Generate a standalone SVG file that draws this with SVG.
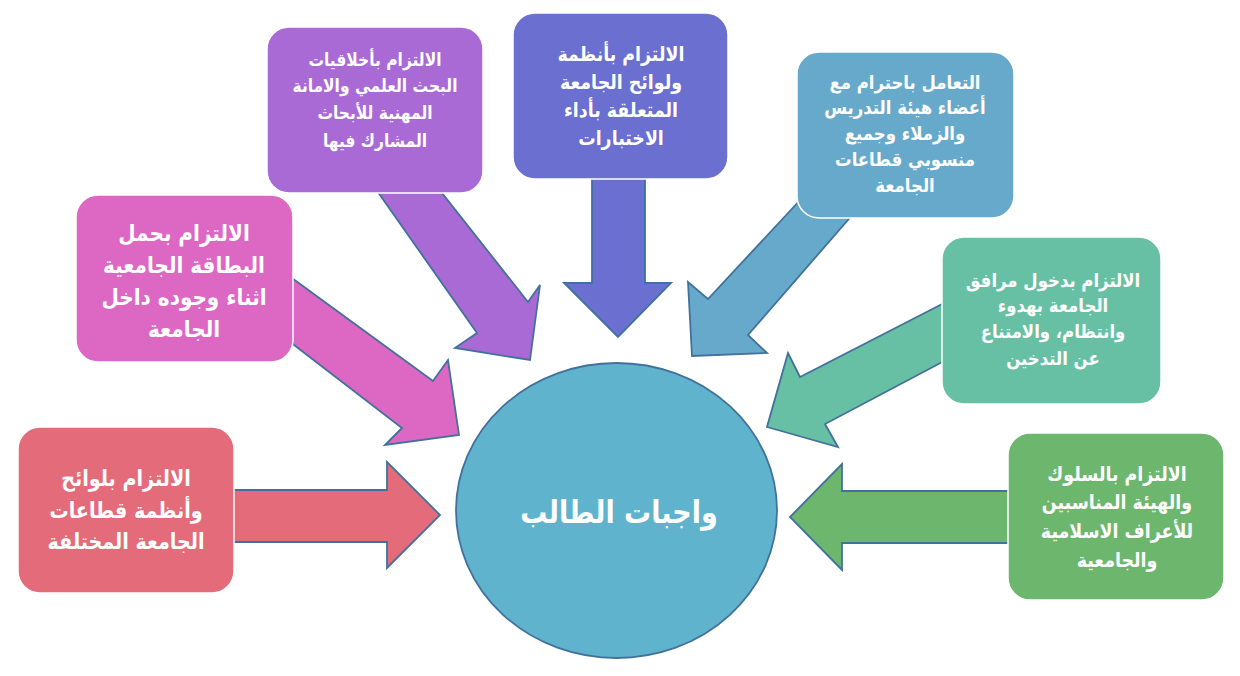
<svg xmlns="http://www.w3.org/2000/svg" width="1240" height="676" viewBox="0 0 1240 676">
<style>
.arrow{stroke:#41719C;stroke-width:1.8;stroke-linejoin:miter}
.box{stroke:#FFFFFF;stroke-width:1.5}
.t{font-family:"DejaVu Sans","Noto Sans",sans-serif;font-weight:bold;fill:#FFFFFF;text-anchor:middle;direction:rtl}
</style>
<rect width="1240" height="676" fill="#FFFFFF"/>
<g id="connectors">
<polygon class="arrow" fill="#E46C7A" points="230,490 387,490 387,462 440,515 387,568 387,542 230,542"/>
<polygon class="arrow" fill="#DC68C4" points="285,273 433,381 448,360 459,435 385,445 402,428 285,338"/>
<polygon class="arrow" fill="#A96AD6" points="375,188 477,333 455,348 530,360 540,285 528,302 438,188"/>
<polygon class="arrow" fill="#6A6FD0" points="592,176 645,176 645,283 671,283 618,337 564,283 592,283"/>
<polygon class="arrow" fill="#67A9CA" points="802,198 708,299 688,282 692,356 767,353 748,335 854,213"/>
<polygon class="arrow" fill="#67C0A3" points="948,301 800,377 788,353 767,427 838,447 825,424 948,359"/>
<polygon class="arrow" fill="#6DB66D" points="1012,491 842,491 842,464 790,517 842,570 842,543 1012,543"/>
</g>
<g id="center">
<ellipse cx="616.5" cy="510.5" rx="160.5" ry="147.5" fill="#5FB3CC" stroke="#41719C" stroke-width="1.8"/>
<text class="t" x="619" y="523" font-size="31" transform="matrix(0.87 0 0 1 80.47 0)">واجبات الطالب</text>
</g>
<g id="node-red">
<rect class="box" x="18" y="427" width="216" height="166" rx="22" fill="#E46C7A"/>
<text class="t" font-size="22" transform="matrix(0.87 0 0 1 16.38 0)"><tspan x="126" y="486">الالتزام بلوائح</tspan><tspan x="126" y="518">وأنظمة قطاعات</tspan><tspan x="126" y="549">الجامعة المختلفة</tspan></text>
</g>
<g id="node-pink">
<rect class="box" x="76" y="195" width="217" height="167" rx="22" fill="#DC68C4"/>
<text class="t" font-size="23" transform="matrix(0.87 0 0 1 23.92 0)"><tspan x="184" y="241">الالتزام بحمل</tspan><tspan x="184" y="273">البطاقة الجامعية</tspan><tspan x="184" y="305">اثناء وجوده داخل</tspan><tspan x="184" y="337">الجامعة</tspan></text>
</g>
<g id="node-purple">
<rect class="box" x="267" y="27" width="216" height="166" rx="22" fill="#A96AD6"/>
<text class="t" font-size="17.8" transform="matrix(0.87 0 0 1 48.75 0)"><tspan x="375" y="66">الالتزام بأخلاقيات</tspan><tspan x="375" y="92">البحث العلمي والامانة</tspan><tspan x="375" y="119">المهنية للأبحاث</tspan><tspan x="375" y="147">المشارك فيها</tspan></text>
</g>
<g id="node-indigo">
<rect class="box" x="513" y="13" width="215" height="166" rx="22" fill="#6A6FD0"/>
<text class="t" font-size="20" transform="matrix(0.87 0 0 1 80.73 0)"><tspan x="621" y="61">الالتزام بأنظمة</tspan><tspan x="621" y="89">ولوائح الجامعة</tspan><tspan x="621" y="117">المتعلقة بأداء</tspan><tspan x="621" y="145">الاختبارات</tspan></text>
</g>
<g id="node-blue">
<rect class="box" x="797" y="52" width="217" height="166" rx="22" fill="#67A9CA"/>
<text class="t" font-size="19" transform="matrix(0.87 0 0 1 117.65 0)"><tspan x="905" y="89">التعامل باحترام مع</tspan><tspan x="905" y="114">أعضاء هيئة التدريس</tspan><tspan x="905" y="140">والزملاء وجميع</tspan><tspan x="905" y="166">منسوبي قطاعات</tspan><tspan x="905" y="192">الجامعة</tspan></text>
</g>
<g id="node-teal">
<rect class="box" x="942" y="237" width="219" height="167" rx="22" fill="#67C0A3"/>
<text class="t" font-size="19" transform="matrix(0.87 0 0 1 136.89 0)"><tspan x="1053" y="287">الالتزام بدخول مرافق</tspan><tspan x="1053" y="312">الجامعة بهدوء</tspan><tspan x="1053" y="338">وانتظام، والامتناع</tspan><tspan x="1053" y="365">عن التدخين</tspan></text>
</g>
<g id="node-green">
<rect class="box" x="1008" y="433" width="216" height="167" rx="22" fill="#6DB66D"/>
<text class="t" font-size="20" transform="matrix(0.87 0 0 1 145.21 0)"><tspan x="1117" y="481">الالتزام بالسلوك</tspan><tspan x="1117" y="509">والهيئة المناسبين</tspan><tspan x="1117" y="538">للأعراف الاسلامية</tspan><tspan x="1117" y="567">والجامعية</tspan></text>
</g>
</svg>
